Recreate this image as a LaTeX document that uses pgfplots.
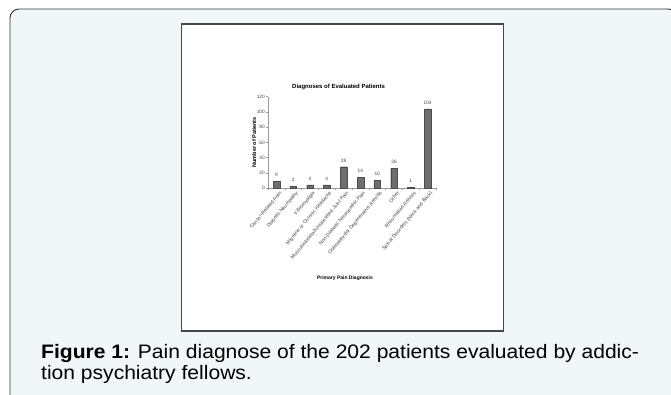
\documentclass[border=0pt]{standalone}
\usepackage{pgfplots}
\pgfplotsset{compat=1.18}
\usepackage{graphicx}
\usepackage{fontspec}
\setmainfont{Liberation Sans}
\definecolor{panelbg}{HTML}{F1F6F9}
\definecolor{barfill}{HTML}{6E6E6E}
\definecolor{txtgray}{HTML}{444444}
\begin{document}
\begin{tikzpicture}[x=1pt,y=1pt]
\path[use as bounding box] (0,0) rectangle (671,394);
\begin{scope}
\clip (0,0) rectangle (671,394);
\filldraw[fill=panelbg, draw=black!80, line width=0.9pt, rounded corners=9pt] (10,385) rectangle (677,-14);
\end{scope}
\filldraw[fill=white, draw=black!72, line width=1.6pt] (181.5,370) rectangle (503.5,63);
\begin{axis}[
  at={(268pt,206pt)}, anchor=south west,
  scale only axis, width=168pt, height=91.3pt,
  ymin=0, ymax=120, ytick={0,20,...,120},
  xmin=-0.5, xmax=9.5,
  xtick={0,...,9},
  xticklabels={Cancer-Related Pain, Diabetic Neuropathy, Fibromyalgia, Migraine or Chronic Headache, Musculoskeletal/Unspecified Joint Pain, Non-Diabetic Neuropathic Pain, Osteoarthritis/ Degenerative Arthritis, Other, Rheumatoid Arthritis, Spinal Disorders (Neck and Back)},
  minor xtick={-0.5,0.5,...,9.5},
  major x tick style={draw=none},
  tick align=outside, major tick length=2pt, minor tick length=2pt,
  every tick/.style={draw=gray!80, line width=0.4pt},
  axis x line*=bottom, axis y line*=left,
  axis line style={draw=gray!80, line width=0.5pt},
  /pgf/number format/assume math mode=true,
  yticklabel style={font=\fontsize{4.8}{5}\selectfont, text=txtgray, inner sep=1pt},
  xticklabel style={font=\fontsize{5}{5}\selectfont, text=txtgray, rotate=50, anchor=east, inner sep=0.5pt, yshift=-4.5pt, xshift=1.5pt},
  title={Diagnoses of Evaluated Patients},
  title style={font=\bfseries\fontsize{6}{7}\selectfont, at={(axis description cs:0.42,1)}, anchor=center, yshift=3.7pt},
  ylabel={Number of Patients},
  ylabel style={font=\bfseries\fontsize{5.5}{6}\selectfont, at={(axis description cs:-0.083,0.5)}, anchor=center},
  xlabel={Primary Pain Diagnosis},
  xlabel style={font=\bfseries\fontsize{5}{6}\selectfont, at={(axis description cs:0.458,-0.985)}, anchor=center},
  clip=false,
]
\addplot[ybar, bar width=6.7pt, fill=barfill, draw=black!70, line width=0.3pt,
  nodes near coords, every node near coord/.append style={font=\fontsize{4.8}{5}\selectfont, text=txtgray, yshift=1pt}]
  coordinates {(0,9) (1,2) (2,4) (3,4) (4,28) (5,14) (6,10) (7,26) (8,1) (9,104)};
\end{axis}
\node[anchor=base west, inner sep=0pt, font=\fontsize{19.5}{21}\selectfont] at (41,36) {\scalebox{1.08}[1]{\textbf{Figure 1:} Pain diagnose of the 202 patients evaluated by addic-}};
\node[anchor=base west, inner sep=0pt, font=\fontsize{19.5}{21}\selectfont] at (41,15) {\scalebox{1.08}[1]{tion psychiatry fellows.}};
\end{tikzpicture}
\end{document}
